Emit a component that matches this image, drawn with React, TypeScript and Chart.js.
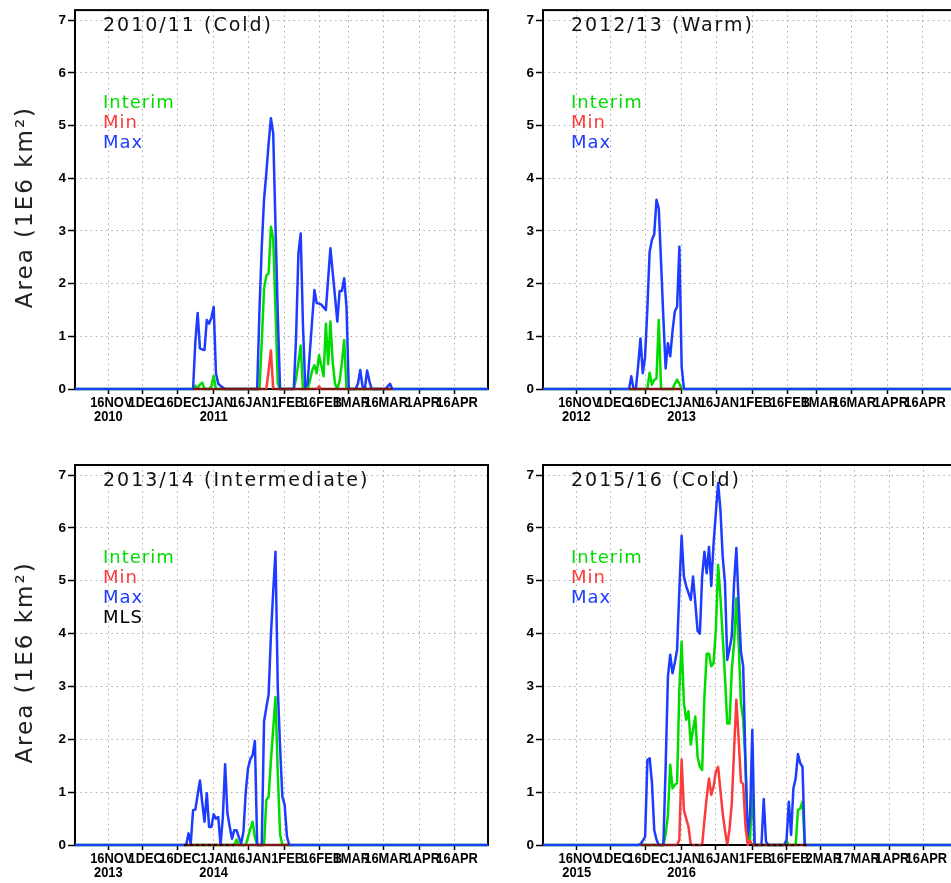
import React, { useEffect, useRef } from 'react';
import { Chart, registerables } from 'chart.js';
Chart.register(...registerables);

// ---------- colours ----------
const GREEN = 'rgb(0,220,0)';
const RED = 'rgb(250,60,60)';
const BLUE = 'rgb(30,60,255)';
const MAROON = 'rgb(125,22,22)';

// ---------- axes ----------
const TICK_DAYS = [15, 30, 45, 61, 76, 92, 107, 120, 135, 151, 166];
const TICK_DAYS_LEAP = [15, 30, 45, 61, 76, 92, 107, 122, 137, 152, 167];
const TICK_NAMES = ['16NOV', '1DEC', '16DEC', '1JAN', '16JAN', '1FEB', '16FEB', '1MAR', '16MAR', '1APR', '16APR'];
const TICK_NAMES_LEAP = ['16NOV', '1DEC', '16DEC', '1JAN', '16JAN', '1FEB', '16FEB', '2MAR', '17MAR', '1APR', '16APR'];
const Y_TICKS = [0, 1, 2, 3, 4, 5, 6, 7];
const Y_TITLE = 'Area (1E6 km\u00b2)';
const LEGEND3 = [['Interim', GREEN], ['Min', RED], ['Max', BLUE]];
const LEGEND4 = [['Interim', GREEN], ['Min', RED], ['Max', BLUE], ['MLS', '#000']];

// ---------- 2010/11 (day 0 = 1 Nov) ----------
const p1MaxStart = 50;
const p1Max = [
  0, 0, 0, 0.9, 1.44, 0.77, 0.75, 0.74, 1.31, 1.24,
  1.35, 1.56, 0.3, 0.1, 0.06, 0.03, 0, 0, 0, 0,
  0, 0, 0, 0, 0, 0, 0, 0, 0, 0,
  0, 1.5, 2.7, 3.6, 4.1, 4.66, 5.14, 4.85, 3.1, 1.4,
  0, 0, 0, 0, 0, 0, 0, 1.0, 2.57, 2.95,
  1.2, 0.03, 0.1, 0.7, 1.3, 1.88, 1.63, 1.62, 1.6, 1.55,
  1.5, 2.1, 2.67, 2.2, 1.75, 1.28, 1.86, 1.86, 2.1, 1.56,
  0, 0, 0, 0, 0.1, 0.36, 0.05, 0, 0.35, 0.15,
  0, 0, 0, 0, 0, 0, 0, 0.05, 0.1, 0,
  0,
];
const p1InterimStart = 50;
const p1Interim = [
  0, 0, 0, 0.06, 0.02, 0.08, 0.12, 0, 0, 0,
  0.05, 0.25, 0, 0, 0, 0, 0, 0, 0, 0,
  0, 0, 0, 0, 0, 0, 0, 0, 0, 0,
  0, 0, 0.9, 1.9, 2.15, 2.2, 3.08, 2.85, 1.5, 0.1,
  0, 0, 0, 0, 0, 0, 0, 0.2, 0.5, 0.82,
  0, 0, 0, 0.15, 0.35, 0.45, 0.3, 0.64, 0.45, 0.24,
  1.24, 0.47, 1.28, 0.5, 0.1, 0, 0.15, 0.5, 0.93, 0,
  0,
];
const p1MinStart = 84;
const p1Min = [0, 0.35, 0.73, 0, 0, 0, 0, 0, 0, 0, 0, 0, 0, 0, 0, 0, 0, 0, 0, 0, 0, 0, 0, 0.05, 0];
const p1MinSeason = [52, 139];

// ---------- 2012/13 ----------
const p2MaxStart = 37;
const p2Max = [
  0, 0, 0.24, 0, 0, 0.45, 0.96, 0.3, 0.6, 1.5,
  2.6, 2.83, 2.93, 3.59, 3.43, 2.4, 1.35, 0.39, 0.87, 0.62,
  1.1, 1.47, 1.56, 2.7, 0.42, 0,
];
const p2InterimStart = 45;
const p2Interim = [0, 0, 0.31, 0.08, 0.17, 0.2, 1.31, 0, 0, 0, 0, 0, 0, 0.1, 0.18, 0.1, 0];
const p2MinStart = 38;
const p2Min = [0];
const p2MinSeason = [38, 61];

// ---------- 2013/14 ----------
const p3MaxStart = 48;
const p3Max = [
  0, 0, 0.22, 0.03, 0.66, 0.67, 0.95, 1.22, 0.8, 0.44,
  0.98, 0.34, 0.34, 0.58, 0.5, 0.53, 0, 0.53, 1.53, 0.6,
  0.35, 0.12, 0.28, 0.28, 0.15, 0.03, 0.25, 1.0, 1.45, 1.62,
  1.7, 1.97, 0, 0, 0, 2.34, 2.6, 2.85, 3.97, 4.8,
  5.55, 2.97, 1.85, 0.91, 0.76, 0.16, 0,
];
const p3InterimStart = 70;
const p3Interim = [0, 0.1, 0, 0, 0, 0, 0.15, 0.3, 0.44, 0.15, 0, 0, 0, 0, 0.85, 0.91, 1.6, 2.2, 2.8, 1.35, 0.2, 0];
const p3MinStart = 48;
const p3Min = [0];
const p3MinSeason = [48, 94];
const p3MlsRange = [48, 70];

// ---------- 2015/16 (leap year) ----------
const p4MaxStart = 42;
const p4Max = [
  0, 0.02, 0.08, 0.16, 1.61, 1.64, 1.17, 0.28, 0.1, 0,
  0, 0, 1.5, 3.19, 3.6, 3.25, 3.45, 3.69, 4.83, 5.85,
  5.08, 4.9, 4.77, 4.64, 5.08, 4.58, 4.05, 4.0, 5.08, 5.55,
  5.14, 5.64, 4.9, 5.7, 6.28, 6.85, 6.35, 5.46, 4.96, 3.5,
  3.72, 3.95, 4.96, 5.62, 4.58, 3.66, 3.38, 1.55, 0.16, 0.54,
  2.18, 0, 0, 0, 0, 0.87, 0.06, 0, 0, 0,
  0, 0, 0, 0, 0, 0.1, 0.82, 0.19, 1.07, 1.26,
  1.72, 1.55, 1.48, 0, 0,
];
const p4InterimStart = 53;
const p4Interim = [
  0, 0.2, 0.57, 1.52, 1.07, 1.14, 1.17, 2.94, 3.85, 2.69,
  2.37, 2.53, 1.9, 2.18, 2.43, 1.67, 1.48, 1.42, 2.81, 3.62,
  3.62, 3.38, 3.44, 4.07, 5.3, 4.7, 3.95, 3.19, 2.3, 2.3,
  3.32, 3.82, 4.67, 3.82, 2.69, 2.37, 1.55, 0.13, 0.1, 1.1,
  0, 0, 0, 0, 0, 0, 0, 0, 0, 0,
  0, 0, 0, 0, 0.08, 0, 0, 0, 0, 0.66,
  0.69, 0.82, 0,
];
const p4MinStart = 59;
const p4Min = [
  0, 0.1, 1.62, 0.66, 0.5, 0.35, 0, 0, 0, 0,
  0, 0, 0.47, 0.9, 1.26, 0.95, 1.1, 1.39, 1.48, 1.04,
  0.6, 0.28, 0, 0.3, 0.79, 1.8, 2.75, 2.0, 1.2, 1.15,
  0.35, 0, 0.08, 0,
];
const p4MinSeason = [43, 116];
const p4MlsRange = [59, 117];

// ---------- helpers ----------
function fullSeries(n: number, start: number, values: number[]) {
  const out: { x: number; y: number | null }[] = [];
  for (let d = 0; d < n; d++) {
    const i = d - start;
    out.push({ x: d, y: i >= 0 && i < values.length ? values[i] : 0 });
  }
  return out;
}
function seasonSeries(n: number, range: number[], start: number, values: number[]) {
  const out: { x: number; y: number | null }[] = [];
  for (let d = 0; d < n; d++) {
    if (d < range[0] || d > range[1]) {
      out.push({ x: d, y: null });
      continue;
    }
    const i = d - start;
    out.push({ x: d, y: i >= 0 && i < values.length ? values[i] : 0 });
  }
  return out;
}

const TICK_FONT = "'Liberation Sans', Arial, sans-serif";
const TEXT_FONT = "'DejaVu Sans', 'Noto Sans', sans-serif";
const LW = 2.5;

type PanelCfg = {
  left: number; top: number; w: number; h: number;
  padTop: number; xH: number; yW: number;
  xmin: number; xmax: number; n: number;
  tickDays: number[]; tickNames: string[]; years: string[];
  title: string; legend: string[][]; yTitle: boolean;
  max: number[]; maxStart: number;
  interim: number[]; interimStart: number;
  min: number[]; minStart: number; minSeason: number[];
  mls?: number[];
};

const PANELS: PanelCfg[] = [
  {
    left: 0, top: 0, w: 490, h: 440, padTop: 10, xH: 51, yW: 75,
    xmin: 0.44, xmax: 180.8, n: 182, tickDays: TICK_DAYS, tickNames: TICK_NAMES, years: ['2010', '2011'],
    title: '2010/11 (Cold)', legend: LEGEND3, yTitle: true,
    max: p1Max, maxStart: p1MaxStart, interim: p1Interim, interimStart: p1InterimStart,
    min: p1Min, minStart: p1MinStart, minSeason: p1MinSeason,
  },
  {
    left: 490, top: 0, w: 468, h: 440, padTop: 10, xH: 51, yW: 53,
    xmin: 0.44, xmax: 180.8, n: 182, tickDays: TICK_DAYS, tickNames: TICK_NAMES, years: ['2012', '2013'],
    title: '2012/13 (Warm)', legend: LEGEND3, yTitle: false,
    max: p2Max, maxStart: p2MaxStart, interim: p2Interim, interimStart: p2InterimStart,
    min: p2Min, minStart: p2MinStart, minSeason: p2MinSeason,
  },
  {
    left: 0, top: 440, w: 490, h: 443, padTop: 25, xH: 38, yW: 75,
    xmin: 0.44, xmax: 180.8, n: 182, tickDays: TICK_DAYS, tickNames: TICK_NAMES, years: ['2013', '2014'],
    title: '2013/14 (Intermediate)', legend: LEGEND4, yTitle: true,
    max: p3Max, maxStart: p3MaxStart, interim: p3Interim, interimStart: p3InterimStart,
    min: p3Min, minStart: p3MinStart, minSeason: p3MinSeason, mls: p3MlsRange,
  },
  {
    left: 490, top: 440, w: 468, h: 443, padTop: 25, xH: 38, yW: 53,
    xmin: 0.22, xmax: 181.3, n: 183, tickDays: TICK_DAYS_LEAP, tickNames: TICK_NAMES_LEAP, years: ['2015', '2016'],
    title: '2015/16 (Cold)', legend: LEGEND3, yTitle: false,
    max: p4Max, maxStart: p4MaxStart, interim: p4Interim, interimStart: p4InterimStart,
    min: p4Min, minStart: p4MinStart, minSeason: p4MinSeason, mls: p4MlsRange,
  },
];

function makeChart(canvas: HTMLCanvasElement, p: PanelCfg) {
  const clip = { left: 0, top: 0, right: 0, bottom: 3 };
  const datasets: any[] = [];
  if (p.mls) {
    datasets.push({
      label: 'MLS', data: seasonSeries(p.n, p.mls, 0, []),
      borderColor: '#000', borderWidth: 1.5, borderDash: [3, 3], clip,
    });
  }
  datasets.push({
    label: 'Min', data: seasonSeries(p.n, p.minSeason, p.minStart, p.min),
    borderColor: RED, borderWidth: LW, clip,
    segment: {
      borderColor: (c: any) => (c.p0.parsed.y === 0 && c.p1.parsed.y === 0 ? MAROON : undefined),
    },
  });
  datasets.push({ label: 'Max', data: fullSeries(p.n, p.maxStart, p.max), borderColor: BLUE, borderWidth: LW, clip });
  datasets.push({ label: 'Interim', data: fullSeries(p.n, p.interimStart, p.interim), borderColor: GREEN, borderWidth: LW, clip });

  const decor = {
    id: 'decor',
    beforeDatasetsDraw(chart: any) {
      const { ctx, chartArea: a } = chart;
      ctx.save();
      ctx.strokeStyle = '#000';
      ctx.lineWidth = 2;
      ctx.strokeRect(a.left, a.top, a.right - a.left, a.bottom - a.top);
      ctx.restore();
    },
    afterDatasetsDraw(chart: any) {
      const { ctx, chartArea: a } = chart;
      const xs = chart.scales.x;
      ctx.save();
      // x tick labels (condensed bold)
      ctx.fillStyle = '#000';
      ctx.textAlign = 'center';
      ctx.textBaseline = 'alphabetic';
      ctx.font = `bold 15px ${TICK_FONT}`;
      p.tickDays.forEach((d, i) => {
        const px = xs.getPixelForValue(d);
        ctx.save();
        ctx.translate(px + 3, a.bottom + 18.3);
        ctx.scale(0.86, 1);
        ctx.fillText(p.tickNames[i], 0, 0);
        ctx.restore();
        const yr = i === 0 ? p.years[0] : i === 3 ? p.years[1] : null;
        if (yr) {
          ctx.save();
          ctx.translate(px, a.bottom + 31.7);
          ctx.scale(0.86, 1);
          ctx.fillText(yr, 0, 0);
          ctx.restore();
        }
      });
      // title and legend
      ctx.textAlign = 'left';
      (ctx as any).letterSpacing = '2px';
      ctx.font = `19px ${TEXT_FONT}`;
      ctx.fillStyle = '#111';
      ctx.fillText(p.title, a.left + 28, a.top + 20.7);
      (ctx as any).letterSpacing = '1px';
      ctx.font = `18px ${TEXT_FONT}`;
      p.legend.forEach(([t, c], i) => {
        ctx.fillStyle = c;
        ctx.fillText(t, a.left + 28, a.top + 98.3 + 20 * i);
      });
      if (p.yTitle) {
        ctx.translate(32, (a.top + a.bottom) / 2 + 7.5);
        ctx.rotate(-Math.PI / 2);
        ctx.textAlign = 'center';
        (ctx as any).letterSpacing = '2px';
        ctx.font = `23px ${TEXT_FONT}`;
        ctx.fillStyle = '#222';
        ctx.fillText(Y_TITLE, 0, 0);
      }
      ctx.restore();
    },
  };

  return new Chart(canvas, {
    type: 'line',
    data: { datasets },
    plugins: [decor],
    options: {
      responsive: false,
      animation: false,
      devicePixelRatio: 1,
      events: [],
      layout: { padding: { top: p.padTop, right: 2, left: 0, bottom: 0 } },
      plugins: { legend: { display: false }, tooltip: { enabled: false }, title: { display: false } },
      elements: { point: { radius: 0 }, line: { tension: 0, borderWidth: LW, fill: false, borderJoinStyle: 'round' } },
      scales: {
        x: {
          type: 'linear',
          min: p.xmin,
          max: p.xmax,
          afterBuildTicks: (s: any) => { s.ticks = p.tickDays.map((v) => ({ value: v })); },
          afterFit: (s: any) => { s.height = p.xH; },
          ticks: { display: false, autoSkip: false, maxRotation: 0, minRotation: 0 },
          grid: { color: '#aaaaaa', lineWidth: 1, tickLength: 5, tickColor: '#000', tickWidth: 1.5, drawTicks: true },
          border: { display: false, dash: [1.5, 3.7] },
        },
        y: {
          type: 'linear',
          min: 0,
          max: 7.19,
          afterBuildTicks: (s: any) => { s.ticks = Y_TICKS.map((v) => ({ value: v })); },
          afterFit: (s: any) => { s.width = p.yW; },
          ticks: {
            color: '#000', padding: 2,
            font: { family: TICK_FONT, size: 13.5, weight: 'bold' },
            callback: (v: any) => String(v),
          },
          grid: { color: '#aaaaaa', lineWidth: 1, tickLength: 7, tickColor: '#000', tickWidth: 1.5, drawTicks: true },
          border: { display: false, dash: [1.5, 3.7] },
        },
      },
    } as any,
  });
}

function Panel({ p }: { p: PanelCfg }) {
  const ref = useRef<HTMLCanvasElement>(null);
  useEffect(() => {
    const chart = makeChart(ref.current as HTMLCanvasElement, p);
    return () => chart.destroy();
  }, [p]);
  return (
    <canvas
      ref={ref}
      width={p.w}
      height={p.h}
      style={{ position: 'absolute', left: p.left, top: p.top, width: p.w, height: p.h, display: 'block' }}
    />
  );
}

export default function App() {
  return (
    <div style={{ position: 'absolute', left: 0, top: 0, width: 951, height: 883, overflow: 'hidden', background: '#fff' }}>
      {PANELS.map((p, i) => (
        <Panel key={i} p={p} />
      ))}
    </div>
  );
}
